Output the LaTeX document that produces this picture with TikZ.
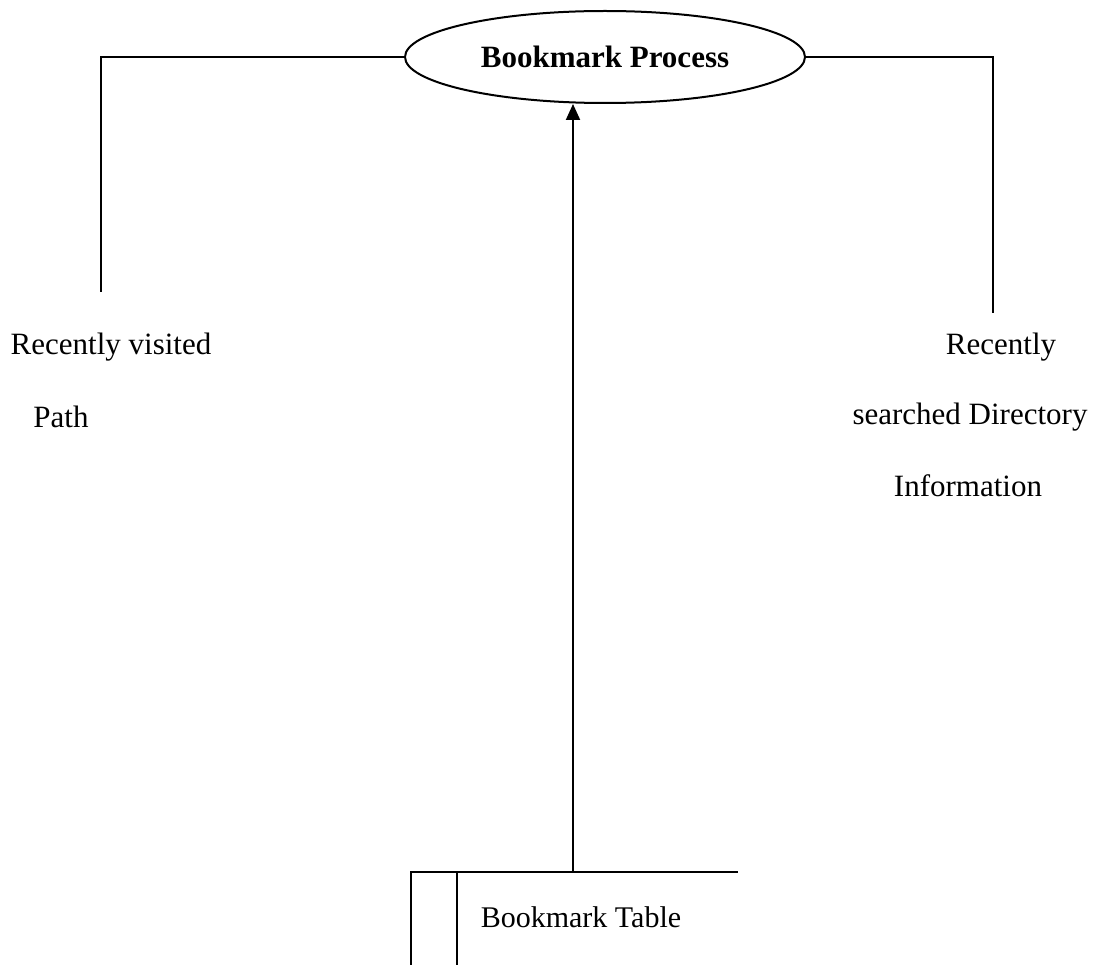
\documentclass[tikz,border=0pt]{standalone}
\usepackage{fontspec}
\setmainfont{Liberation Serif}
\usetikzlibrary{shapes.geometric,arrows.meta}
\begin{document}
\begin{tikzpicture}[x=1pt,y=-1pt,
  line/.style={line width=2pt},
  lbl/.style={inner sep=0pt,font=\fontsize{31}{37}\selectfont},
  proc/.style={ellipse,draw,line width=2pt,minimum width=400pt,minimum height=92pt,inner sep=0pt,font=\fontsize{31}{37}\selectfont\bfseries}]
\useasboundingbox (0,0) rectangle (1096,965);
\node[proc] (bp) at (605,57) {Bookmark Process};
% left data flow
\coordinate (lc) at (101,57);
\coordinate (le) at (101,292);
\draw[line] (bp.west) -- (lc) -- (le);
\node[lbl] (l1) at (111,347) {Recently visited};
\node[lbl] (l2) at (61,417) {Path};
% right data flow
\coordinate (rc) at (993,57);
\coordinate (re) at (993,313);
\draw[line] (bp.east) -- (rc) -- (re);
\node[lbl] (r1) at (1001,347) {Recently};
\node[lbl] (r2) at (970,417) {searched Directory};
\node[lbl] (r3) at (968,486) {Information};
% data store
\coordinate (ttl) at (410,872);
\coordinate (ttr) at (738,872);
\coordinate (tl) at (411,872);
\coordinate (tlb) at (411,965);
\coordinate (ti) at (457,872);
\coordinate (tib) at (457,965);
\draw[line] (ttl) -- (ttr);
\draw[line] (tl) -- (tlb);
\draw[line] (ti) -- (tib);
\node[lbl,font=\fontsize{30}{36}\selectfont] (tab) at (581,917) {Bookmark Table};
\coordinate (ta) at (573,872);
\draw[line,-{Triangle[length=16pt,width=14pt]}] (ta) -- (ta |- bp.south);
\end{tikzpicture}
\end{document}
